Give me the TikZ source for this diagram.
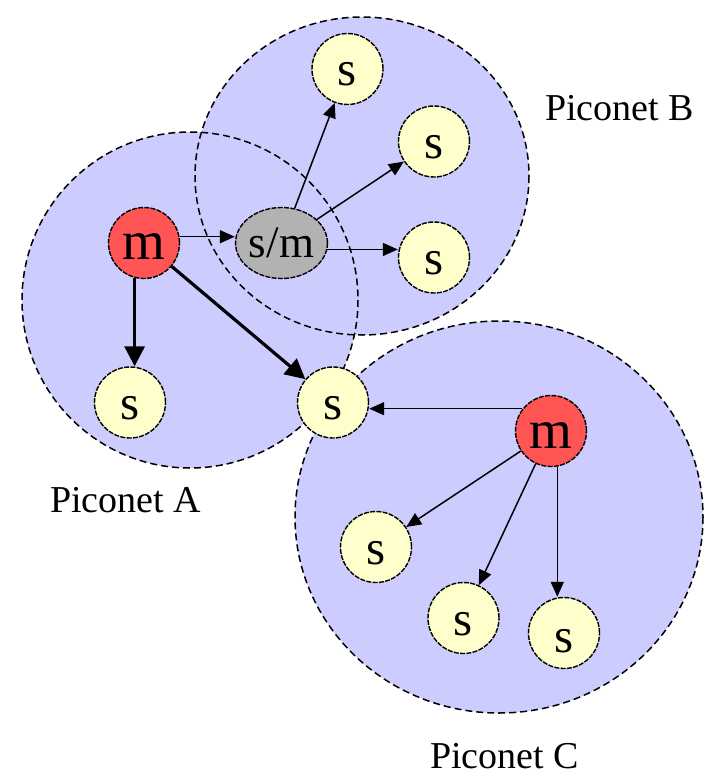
\documentclass[tikz,border=0pt]{standalone}
\usepackage{fontspec}
\setmainfont{Liberation Serif}
\usetikzlibrary{arrows.meta,shapes.geometric}
\definecolor{netfill}{RGB}{204,204,255}
\definecolor{slavefill}{RGB}{255,255,204}
\definecolor{masterfill}{RGB}{255,85,85}
\definecolor{bridgefill}{RGB}{178,178,178}
\newcommand{\lowtxt}[2]{\raisebox{-#1}[0pt][0pt]{#2}}
\begin{document}
\begin{tikzpicture}[x=1pt,y=-1pt,
  netarea/.style={fill=netfill},
  netborder/.style={draw=black, dash pattern=on 7pt off 4pt, line width=1.5pt},
  slave/.style={circle, draw=black, fill=slavefill, minimum size=71pt, inner sep=0pt,
    line width=1.4pt, dash pattern=on 5pt off 1.3pt, font=\fontsize{49}{49}\selectfont},
  master/.style={slave, fill=masterfill, font=\fontsize{55}{55}\selectfont},
  bridge/.style={ellipse, draw=black, fill=bridgefill, minimum width=87pt, minimum height=71pt,
    inner sep=0pt, line width=1.4pt, dash pattern=on 5pt off 1.3pt, font=\fontsize{45}{45}\selectfont},
  link/.style={-{Triangle[length=15pt,width=13pt]}, line width=1.5pt},
  thicklink/.style={-{Triangle[length=20pt,width=20pt]}, line width=3.2pt},
  netlabel/.style={anchor=base west, inner sep=0pt, font=\fontsize{38}{40}\selectfont}
]
\useasboundingbox (0,0) rectangle (713,776);
% piconet areas
\fill[netarea] (190,300) circle (168);
\fill[netarea] (362,176) ellipse [x radius=167, y radius=159];
\fill[netarea] (499,517) ellipse [x radius=204, y radius=196];
\draw[netborder] (190,300) circle (168);
\draw[netborder] (362,176) ellipse [x radius=167, y radius=159];
\draw[netborder] (499,517) ellipse [x radius=204, y radius=196];
% nodes
\node[master] (mA) at (144,243) {\lowtxt{16pt}{m}};
\node[bridge] (sm) at (281.5,243) {s/m};
\node[slave] (sA1) at (130,402.5) {\lowtxt{17pt}{s}};
\node[slave] (sS) at (333,402.5) {\lowtxt{17pt}{s}};
\node[slave] (sB1) at (347.5,69) {\lowtxt{17pt}{s}};
\node[slave] (sB2) at (434,141.5) {\lowtxt{17pt}{s}};
\node[slave] (sB3) at (434,257.5) {\lowtxt{17pt}{s}};
\node[master] (mC) at (551,431) {\lowtxt{17pt}{m}};
\node[slave] (sC1) at (376,547) {\lowtxt{17pt}{s}};
\node[slave] (sC2) at (463.5,618) {\lowtxt{17pt}{s}};
\node[slave] (sC3) at (564,633) {\lowtxt{19pt}{s}};
% labels
\node[netlabel] (lA) at (50,512) {Piconet A};
\node[netlabel] (lB) at (545,120) {Piconet B};
\node[netlabel] (lC) at (430,768) {Piconet C};
% connectors
\draw[link] (mA.10) -- (mA.10 -| sm.west);
\draw[thicklink] (mA.255) -- (mA.255 |- sA1.north);
\draw[thicklink] (mA) -- (sS);
\draw[link] (sm) -- (sB1);
\draw[link] (sm) -- (sB2);
\draw[link] (sm.-8) -- (sm.-8 -| sB3.west);
\draw[link] (mC.142) -- (mC.142 -| sS.east);
\draw[link] (mC) -- (sC1);
\draw[link] (mC) -- (sC2);
\draw[link] (mC.280) -- (mC.280 |- sC3.north);
\end{tikzpicture}
\end{document}
